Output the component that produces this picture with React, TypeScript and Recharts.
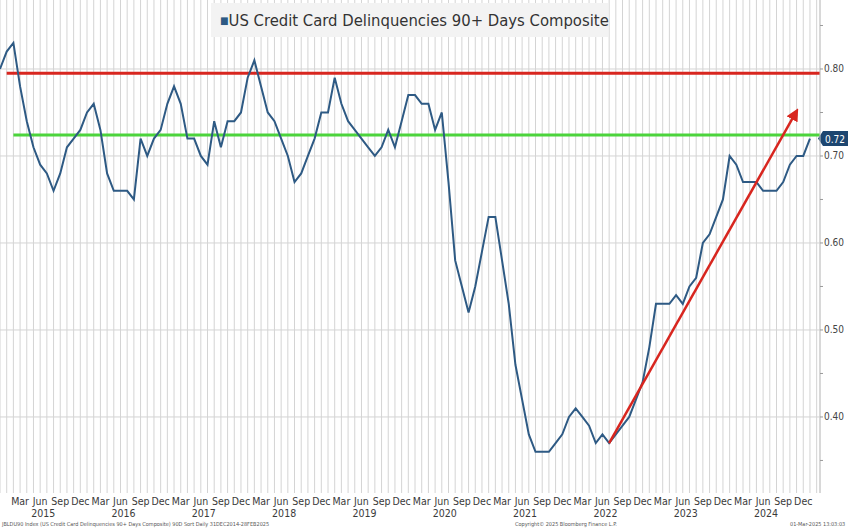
import React from 'react';
import { LineChart, Line, XAxis, YAxis, CartesianGrid, ReferenceLine } from 'recharts';

// Monthly values, Dec 2014 .. Jan 2025
const delinquency: number[] = [
  0.80, 0.82, 0.83, 0.78, 0.74, 0.71, 0.69, 0.68, 0.66, 0.68, 0.71, 0.72,
  0.73, 0.75, 0.76, 0.73, 0.68, 0.66, 0.66, 0.66, 0.65, 0.72, 0.70, 0.72,
  0.73, 0.76, 0.78, 0.76, 0.72, 0.72, 0.70, 0.69, 0.74, 0.71, 0.74, 0.74,
  0.75, 0.79, 0.81, 0.78, 0.75, 0.74, 0.72, 0.70, 0.67, 0.68, 0.70, 0.72,
  0.75, 0.75, 0.79, 0.76, 0.74, 0.73, 0.72, 0.71, 0.70, 0.71, 0.73, 0.71,
  0.74, 0.77, 0.77, 0.76, 0.76, 0.73, 0.75, 0.67, 0.58, 0.55, 0.52, 0.55,
  0.59, 0.63, 0.63, 0.58, 0.53, 0.46, 0.42, 0.38, 0.36, 0.36, 0.36, 0.37,
  0.38, 0.40, 0.41, 0.40, 0.39, 0.37, 0.38, 0.37, 0.38, 0.39, 0.40, 0.42,
  0.44, 0.48, 0.53, 0.53, 0.53, 0.54, 0.53, 0.55, 0.56, 0.60, 0.61, 0.63,
  0.65, 0.70, 0.69, 0.67, 0.67, 0.67, 0.66, 0.66, 0.66, 0.67, 0.69, 0.70,
  0.70, 0.72,
];

const monthNames = ['Jan', 'Feb', 'Mar', 'Apr', 'May', 'Jun', 'Jul', 'Aug', 'Sep', 'Oct', 'Nov', 'Dec'];
const quarterMonths = ['Mar', 'Jun', 'Sep', 'Dec'];
const yMajorTicks = [0.4, 0.5, 0.6, 0.7, 0.8];
const yMinorTicks = [0.35, 0.45, 0.55, 0.65, 0.75, 0.85];
const redLevel = 0.795;
const greenLevel = 0.724;
const lastLabel = '0.72';
const trendStart = { m: 91, a: 0.37 };
const trendEnd = { m: 118.6, a: 0.746 };

const titleText = 'US Credit Card Delinquencies 90+ Days Composite';
const footerLeft = 'JBLDU90 Index (US Credit Card Delinquencies 90+ Days Composite) 90D  Sort  Daily 31DEC2014-28FEB2025';
const footerMid = 'Copyright\u00A9 2025 Bloomberg Finance L.P.';
const footerRight = '01-Mar-2025 13:03:03';

const rows = delinquency.map((v, i) => ({ m: i, v }));
const arrowRows = [trendStart, trendEnd];
const monthTicks = Array.from({ length: 123 }, (_, i) => i);

const NARROW = '"Liberation Sans Narrow", "DejaVu Sans Condensed", "Roboto Condensed", sans-serif';

const MonthTick = (props: any) => {
  const { x, y, payload } = props;
  const m = payload.value as number;
  if (m < 1) return <g />;
  const mi = (11 + m) % 12;
  const year = 2014 + Math.floor((11 + m) / 12);
  const name = monthNames[mi];
  if (!quarterMonths.includes(name)) return <g />;
  return (
    <g>
      <text x={x} y={y + 12} textAnchor="middle" fontSize={10.5} fill="#3a3a3a" fontFamily={NARROW}>
        {name}
      </text>
      {name === 'Jun' && (
        <text x={x + 3} y={y + 24} textAnchor="middle" fontSize={10.5} fill="#3a3a3a" fontFamily={NARROW}>
          {String(year)}
        </text>
      )}
    </g>
  );
};

const ValueTick = (props: any) => {
  const { x, y, payload } = props;
  const v = payload.value as number;
  const major = yMajorTicks.some((t) => Math.abs(t - v) < 1e-6);
  return (
    <g>
      <line x1={x} x2={x + 3} y1={y} y2={y} stroke="#9a9a9a" strokeWidth={1} />
      {major && (
        <text x={x + 4} y={y + 3.5} fontSize={10} fill="#444" fontFamily={NARROW}>
          {v.toFixed(2)}
        </text>
      )}
    </g>
  );
};

const TagLabel = (props: any) => {
  const vb = props.viewBox || {};
  const x0 = (vb.x || 0) + (vb.width || 0) - 2;
  const y0 = vb.y || 0;
  const h = 15;
  const d = `M${x0},${y0} L${x0 + 5},${y0 - h / 2} L${x0 + 32},${y0 - h / 2} L${x0 + 32},${y0 + h / 2} L${x0 + 5},${y0 + h / 2} Z`;
  return (
    <g>
      <path d={d} fill="#1d4670" />
      <text x={x0 + 7} y={y0 + 4} fontSize={10} fill="#ffffff" fontFamily={NARROW}>
        {lastLabel}
      </text>
    </g>
  );
};

export default function App() {
  return (
    <div style={{ position: 'absolute', left: 0, top: 0, width: 848, height: 532, background: '#ffffff', overflow: 'hidden' }}>
      <svg width={0} height={0} style={{ position: 'absolute' }}>
        <defs>
          <marker id="arrowHead" viewBox="0 0 10 10" refX="3" refY="5" markerWidth="5" markerHeight="5" orient="auto">
            <path d="M0,0 L10,5 L0,10 z" fill="#d8261f" />
          </marker>
        </defs>
      </svg>
      <LineChart width={848} height={532} data={rows} margin={{ top: 0, right: 0, left: 0, bottom: 0 }}>
        <CartesianGrid stroke="#d4d4d4" strokeWidth={1} horizontalValues={yMajorTicks} />
        <XAxis
          type="number"
          dataKey="m"
          domain={[0, 122.5]}
          ticks={monthTicks}
          interval={0}
          tick={<MonthTick />}
          tickLine={false}
          axisLine={false}
          tickSize={0}
          tickMargin={0}
          height={39}
          allowDataOverflow
        />
        <YAxis
          orientation="right"
          type="number"
          domain={[0.3126, 0.8793]}
          ticks={[...yMajorTicks, ...yMinorTicks].sort()}
          interval={0}
          tick={<ValueTick />}
          tickLine={false}
          tickSize={0}
          tickMargin={0}
          axisLine={{ stroke: '#c8c8c8' }}
          width={28}
          allowDataOverflow
        />
        <ReferenceLine
          segment={[{ x: 1, y: redLevel }, { x: 122.5, y: redLevel }]}
          stroke="#d8261f"
          strokeWidth={3}
        />
        <ReferenceLine
          segment={[{ x: 2, y: greenLevel }, { x: 122.5, y: greenLevel }]}
          stroke="#4cd43c"
          strokeWidth={3}
        />
        <Line
          type="linear"
          dataKey="v"
          stroke="#2e5a84"
          strokeWidth={2}
          dot={false}
          activeDot={false}
          isAnimationActive={false}
        />
        <Line
          data={arrowRows}
          type="linear"
          dataKey="a"
          stroke="#d8261f"
          strokeWidth={2.5}
          dot={false}
          activeDot={false}
          isAnimationActive={false}
          markerEnd="url(#arrowHead)"
        />
        <ReferenceLine y={0.72} stroke="none" label={<TagLabel />} />
      </LineChart>
      <div
        style={{
          position: 'absolute', left: 211, top: 3, width: 397, height: 34, background: '#f3f3f3',
          fontFamily: NARROW, fontSize: 16.5, color: '#333', lineHeight: '34px', paddingLeft: 9, boxSizing: 'border-box',
          whiteSpace: 'nowrap',
        }}
      >
        <span style={{ color: '#2e5a84', fontSize: 10, verticalAlign: 'middle' }}>{'\u25A0'}</span>
        <span style={{ verticalAlign: 'middle' }}>{titleText}</span>
      </div>
      <div style={{ position: 'absolute', left: 2, top: 521, fontSize: 5.5, color: '#555', fontFamily: NARROW, whiteSpace: 'nowrap' }}>
        {footerLeft}
      </div>
      <div style={{ position: 'absolute', left: 515, top: 521, fontSize: 5.5, color: '#555', fontFamily: NARROW, whiteSpace: 'nowrap' }}>
        {footerMid}
      </div>
      <div style={{ position: 'absolute', left: 790, top: 521, fontSize: 5.5, color: '#555', fontFamily: NARROW, whiteSpace: 'nowrap' }}>
        {footerRight}
      </div>
    </div>
  );
}
